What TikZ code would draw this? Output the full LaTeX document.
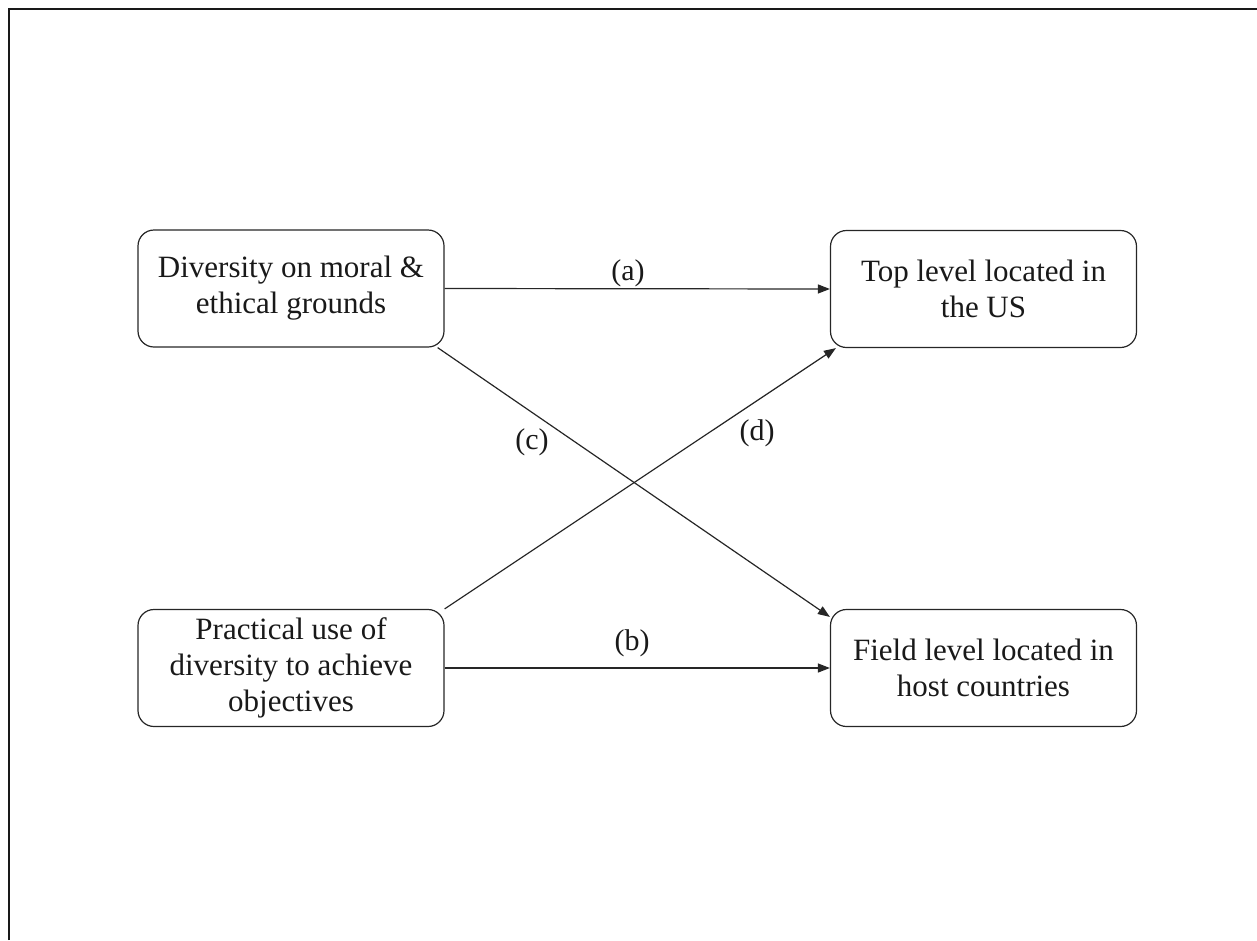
\documentclass[tikz,border=0pt]{standalone}
\usepackage{fontspec}
\setmainfont{Liberation Serif}
\usetikzlibrary{arrows.meta}
\begin{document}
\begin{tikzpicture}[x=1pt,y=-1pt,
  box/.style={draw=black!85, line width=1.2pt, rounded corners=16pt, minimum width=306pt, minimum height=117pt, align=center, inner sep=0pt, text=black!90, font=\fontsize{31}{36}\selectfont},
  conn/.style={draw=black!85, line width=1.2pt, -{Triangle[length=12pt,width=9pt]}},
  lab/.style={font=\fontsize{30}{36}\selectfont, inner sep=0pt, text=black!90}]
\useasboundingbox (0,0) rectangle (1257,940);
\draw[line width=2pt, black!90] (9,940) -- (9,8.5) -- (1257,8.5);
\node[box] (A) at (291,288.5) {Diversity on moral \&\\ethical grounds};
\node[box] (T) at (983.5,289) {Top level located in\\the US};
\node[box] (P) at (291,668) {Practical use of\\diversity to achieve\\objectives};
\node[box] (F) at (983.5,668) {Field level located in\\host countries};
\draw[conn] (A.east) -- (T.west);
\draw[conn] (P.east) -- (F.west);
\draw[conn] ([xshift=-7pt]A.south east) -- ([yshift=-8pt]F.north west);
\draw[conn] (P.north east) -- ([xshift=6pt]T.south west);
\node[lab] (la) at (628,273) {(a)};
\node[lab] (lb) at (632,643) {(b)};
\node[lab] (lc) at (532,442) {(c)};
\node[lab] (ld) at (757,433) {(d)};
\end{tikzpicture}
\end{document}
